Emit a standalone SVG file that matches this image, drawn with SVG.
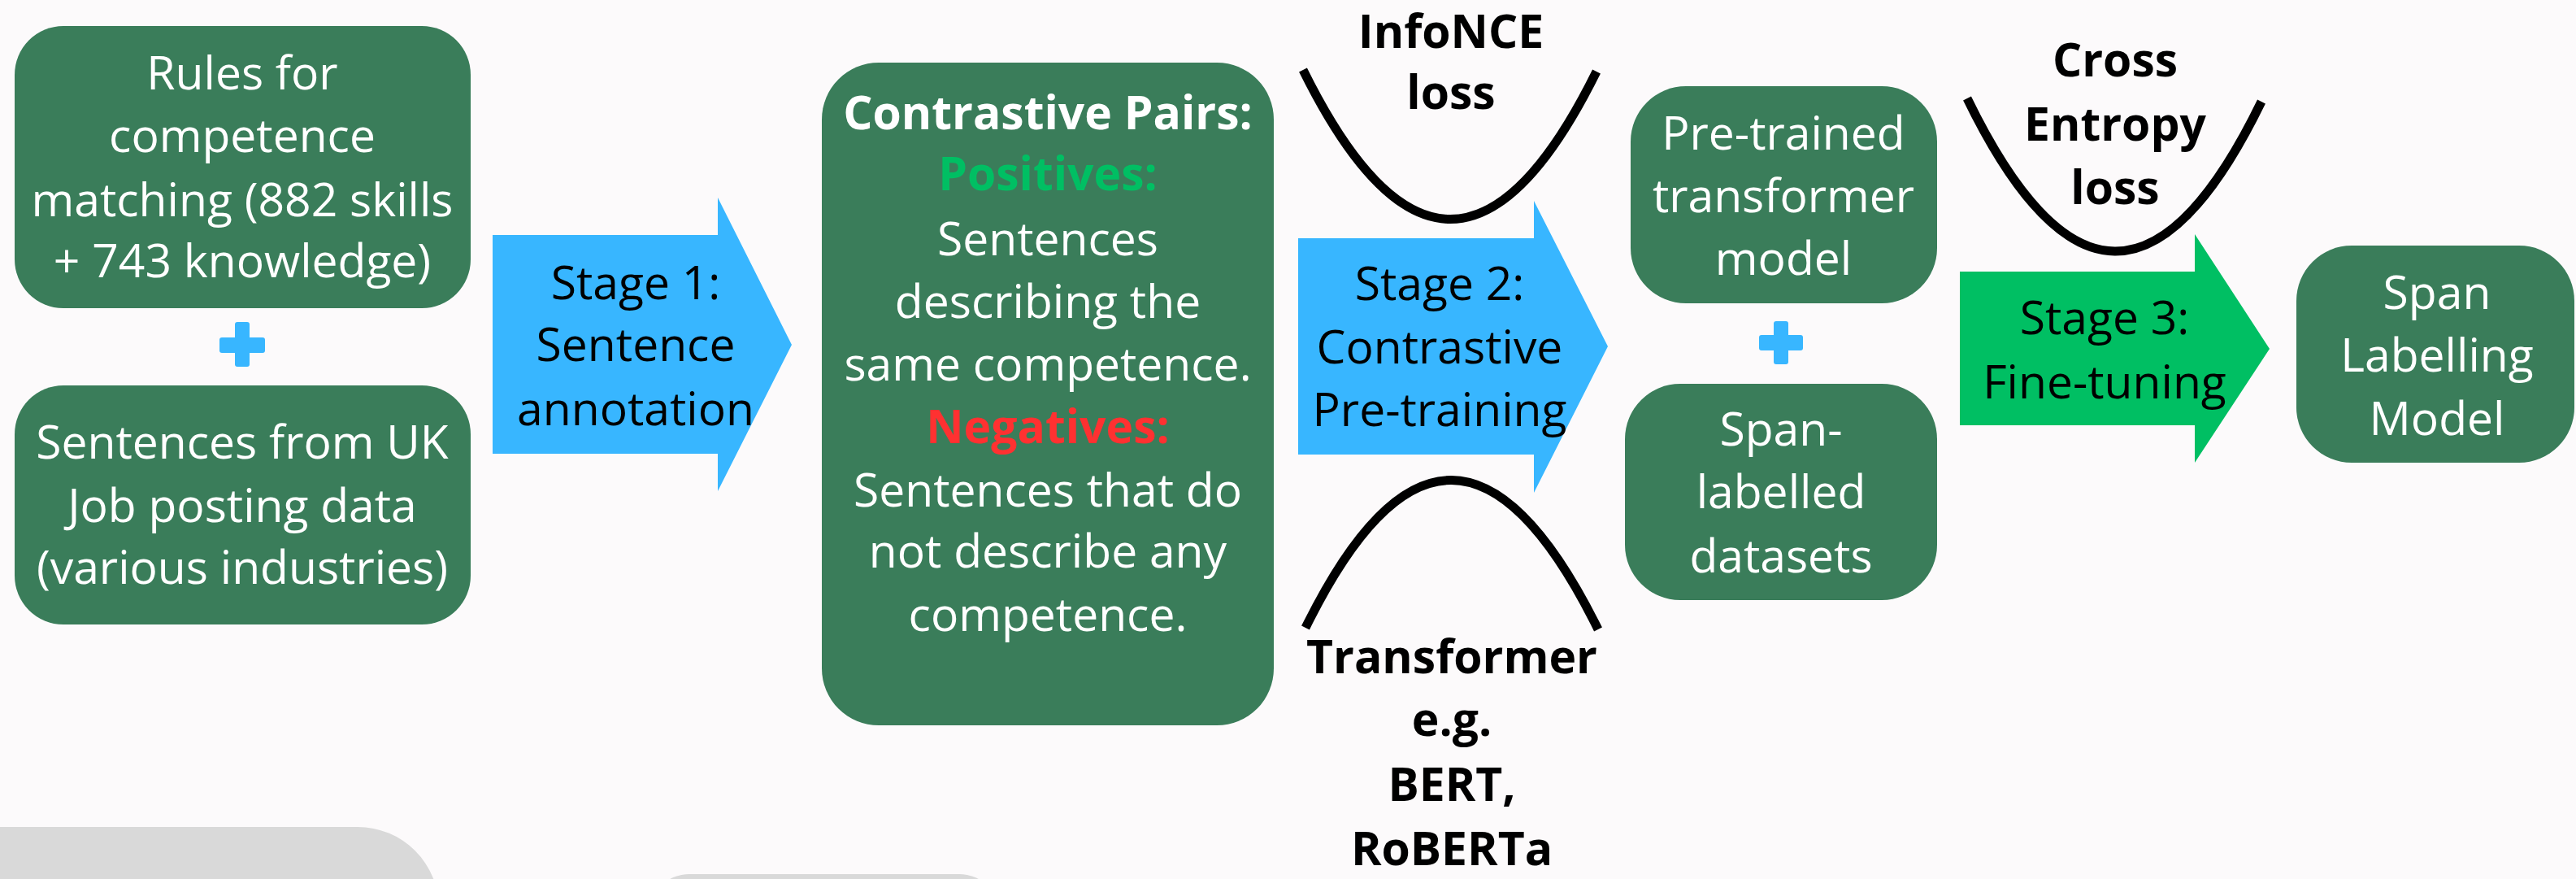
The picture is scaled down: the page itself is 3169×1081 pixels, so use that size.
<svg xmlns="http://www.w3.org/2000/svg" width="3169" height="1081" viewBox="0 0 3169 1081">
<style>
.box{fill:#3a7d5a}
.wt{font-family:"Open Sans","Noto Sans",sans-serif;font-size:57px;fill:#ffffff;text-anchor:middle}
.bk{font-family:"Open Sans","Noto Sans",sans-serif;font-size:57px;fill:#000000;text-anchor:middle}
.bold{font-weight:bold}
.curve{fill:none;stroke:#000000;stroke-width:11}
.blue{fill:#38b6ff}
.green{fill:#00bf63}
.plus{fill:#38b6ff}
.gray{fill:#d9d9d9}
</style>
<rect width="3169" height="1081" fill="#fcfafb"/>
<rect class="gray" x="-100" y="1017" width="640" height="200" rx="100"/>
<rect class="gray" x="798" y="1075" width="432" height="100" rx="50"/>

<g id="rules">
<rect class="box" x="18" y="32" width="561" height="347" rx="60"/>
<text class="wt" x="298" y="110">Rules for</text>
<text class="wt" x="298" y="187">competence</text>
<text class="wt" x="298" y="266">matching (882 skills</text>
<text class="wt" x="298" y="341">+ 743 knowledge)</text>
</g>
<g id="plus1"><rect class="plus" x="289" y="396" width="18" height="55" rx="3"/><rect class="plus" x="270" y="415" width="56" height="19" rx="3"/></g>
<g id="sentences">
<rect class="box" x="18" y="474" width="561" height="294" rx="60"/>
<text class="wt" x="298" y="564">Sentences from UK</text>
<text class="wt" x="298" y="642">Job posting data</text>
<text class="wt" x="298" y="718">(various industries)</text>
</g>
<g id="pairs">
<rect class="box" x="1011" y="77" width="556" height="815" rx="70"/>
<text class="wt bold" x="1289" y="159">Contrastive Pairs:</text>
<text class="wt bold" x="1289" y="234" style="fill:#00bf63">Positives:</text>
<text class="wt" x="1289" y="314">Sentences</text>
<text class="wt" x="1289" y="391">describing the</text>
<text class="wt" x="1289" y="468">same competence.</text>
<text class="wt bold" x="1289" y="545" style="fill:#ff3131">Negatives:</text>
<text class="wt" x="1289" y="623">Sentences that do</text>
<text class="wt" x="1289" y="698">not describe any</text>
<text class="wt" x="1289" y="776">competence.</text>
</g>
<g id="pretrained">
<rect class="box" x="2006" y="106" width="377" height="267" rx="68"/>
<text class="wt" x="2194" y="184">Pre-trained</text>
<text class="wt" x="2194" y="261">transformer</text>
<text class="wt" x="2194" y="338">model</text>
</g>
<g id="plus2"><rect class="plus" x="2182" y="395" width="18" height="53" rx="3"/><rect class="plus" x="2164" y="412" width="54" height="19" rx="3"/></g>
<g id="spandata">
<rect class="box" x="1999" y="472" width="384" height="266" rx="68"/>
<text class="wt" x="2191" y="548">Span-</text>
<text class="wt" x="2191" y="625">labelled</text>
<text class="wt" x="2191" y="704">datasets</text>
</g>
<g id="spanmodel">
<rect class="box" x="2825" y="302" width="342" height="267" rx="68"/>
<text class="wt" x="2998" y="380">Span</text>
<text class="wt" x="2998" y="457">Labelling</text>
<text class="wt" x="2998" y="535">Model</text>
</g>
<g id="infonce">
<path class="curve" d="M1603,86 Q1784,452 1964,88"/>
<text class="bk bold" x="1785" y="59">InfoNCE</text>
<text class="bk bold" x="1785" y="134">loss</text>
</g>
<g id="transformer">
<path class="curve" d="M1606,772 Q1785,408 1966,774"/>
<text class="bk bold" x="1786" y="828">Transformer</text>
<text class="bk bold" x="1786" y="905">e.g.</text>
<text class="bk bold" x="1786" y="985">BERT,</text>
<text class="bk bold" x="1786" y="1064">RoBERTa</text>
</g>
<g id="crossentropy">
<path class="curve" d="M2420,121 Q2602,495 2782,125"/>
<text class="bk bold" x="2602" y="94">Cross</text>
<text class="bk bold" x="2602" y="173">Entropy</text>
<text class="bk bold" x="2602" y="251">loss</text>
</g>
<g id="connectors">
<g id="stage1">
<path class="blue" d="M606,289 H883 V243 L974,424 L883,604 V558 H606 Z"/>
<text class="bk" x="782" y="368">Stage 1:</text>
<text class="bk" x="782" y="444">Sentence</text>
<text class="bk" x="782" y="523">annotation</text>
</g>
<g id="stage2">
<path class="blue" d="M1597,293 H1887 V247 L1978,426 L1887,606 V559 H1597 Z"/>
<text class="bk" x="1771" y="369">Stage 2:</text>
<text class="bk" x="1771" y="447">Contrastive</text>
<text class="bk" x="1771" y="524">Pre-training</text>
</g>
<g id="stage3">
<path class="green" d="M2411,334 H2700 V288 L2792,429 L2700,569 V523 H2411 Z"/>
<text class="bk" x="2589" y="411">Stage 3:</text>
<text class="bk" x="2589" y="490">Fine-tuning</text>
</g>
</g>
</svg>
